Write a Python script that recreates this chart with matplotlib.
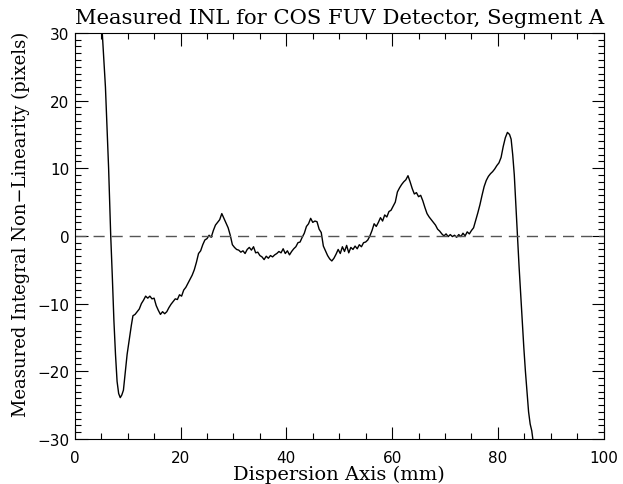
import numpy as np
import matplotlib
matplotlib.use('Agg')
import matplotlib.pyplot as plt
from matplotlib.ticker import MultipleLocator

# Dispersion axis position (mm) and measured INL (pixels)
disp_mm = [4.8, 5.2, 5.5, 5.8, 6.1, 6.4, 6.8, 7.1, 7.4, 7.7, 8.0, 8.3, 8.6, 8.9, 9.2, 9.5, 9.9,
           10.3, 10.7, 11.0, 11.4, 11.8, 12.2, 12.6, 13.0, 13.4, 13.8, 14.2, 14.6, 15.0, 15.4,
           15.8, 16.2, 16.6, 17.0, 17.4, 17.8, 18.2, 18.6, 19.0, 19.4, 19.8, 20.2, 20.6, 21.0,
           21.4, 21.8, 22.2, 22.6, 23.0, 23.4, 23.8, 24.2, 24.6, 25.0, 25.4, 25.8, 26.2, 26.6,
           27.0, 27.4, 27.8, 28.2, 28.6, 29.0, 29.4, 29.8, 30.2, 30.6, 31.0, 31.4, 31.8, 32.2,
           32.6, 33.0, 33.4, 33.8, 34.2, 34.6, 35.0, 35.4, 35.8, 36.2, 36.6, 37.0, 37.4, 37.8,
           38.2, 38.6, 39.0, 39.4, 39.8, 40.2, 40.6, 41.0, 41.4, 41.8, 42.2, 42.6, 43.0, 43.4,
           43.8, 44.2, 44.6, 45.0, 45.4, 45.8, 46.2, 46.6, 47.0, 47.4, 47.8, 48.2, 48.6, 49.0,
           49.4, 49.8, 50.2, 50.6, 51.0, 51.4, 51.8, 52.2, 52.6, 53.0, 53.4, 53.8, 54.2, 54.6,
           55.0, 55.4, 55.8, 56.2, 56.6, 57.0, 57.4, 57.8, 58.2, 58.6, 59.0, 59.4, 59.8, 60.2,
           60.6, 61.0, 61.4, 61.8, 62.2, 62.6, 63.0, 63.4, 63.8, 64.2, 64.6, 65.0, 65.4, 65.8,
           66.2, 66.6, 67.0, 67.4, 67.8, 68.2, 68.6, 69.0, 69.4, 69.8, 70.2, 70.6, 71.0, 71.4,
           71.8, 72.2, 72.6, 73.0, 73.4, 73.8, 74.2, 74.6, 75.0, 75.4, 75.8, 76.2, 76.6, 77.0,
           77.4, 77.8, 78.2, 78.6, 79.0, 79.4, 79.8, 80.2, 80.6, 81.0, 81.4, 81.8, 82.2, 82.5,
           82.8, 83.1, 83.4, 83.7, 84.0, 84.3, 84.6, 84.9, 85.2, 85.5, 85.8, 86.1, 86.4, 86.6,
           86.8]
inl_pix = [34.0, 30.0, 26.0, 22.0, 16.0, 10.0, 0.0, -6.0, -12.5, -17.5, -21.5, -23.3, -23.9,
           -23.5, -22.8, -20.5, -17.5, -15.3, -13.2, -11.8, -11.6, -11.2, -10.8, -10.0, -9.5,
           -8.9, -9.2, -8.9, -9.3, -9.2, -10.3, -11.0, -11.6, -11.2, -11.5, -11.2, -10.6, -10.1,
           -9.7, -9.3, -9.4, -8.7, -8.9, -8.0, -7.6, -7.0, -6.4, -5.8, -5.0, -3.9, -2.6, -2.2,
           -1.3, -0.6, -0.4, 0.1, -0.2, 0.8, 1.6, 2.0, 2.4, 3.3, 2.6, 1.9, 1.2, 0.1, -1.3, -1.7,
           -2.0, -2.1, -2.4, -2.2, -2.6, -2.0, -1.7, -2.1, -1.6, -2.5, -2.4, -2.9, -3.1, -3.5,
           -3.0, -3.3, -2.9, -3.1, -2.8, -2.6, -2.3, -2.5, -1.9, -2.6, -2.2, -2.8, -2.3, -1.9,
           -1.6, -1.0, -0.9, -0.2, 0.4, 1.4, 1.8, 2.6, 2.0, 2.2, 2.1, 1.0, 0.5, -1.5, -2.2, -2.9,
           -3.4, -3.7, -3.3, -2.7, -2.0, -2.6, -1.6, -2.3, -1.4, -2.5, -1.7, -2.0, -1.5, -1.9,
           -1.3, -1.6, -1.0, -0.9, -0.6, 0.0, 0.8, 1.8, 1.4, 2.0, 2.7, 2.2, 3.1, 2.8, 3.6, 3.8,
           4.4, 5.0, 6.5, 7.1, 7.6, 8.0, 8.3, 8.9, 8.0, 7.0, 6.2, 6.4, 5.8, 6.0, 5.2, 4.2, 3.3,
           2.8, 2.4, 2.0, 1.6, 1.0, 0.7, 0.3, 0.0, 0.3, -0.1, 0.2, -0.1, 0.1, -0.2, 0.2, -0.1,
           0.4, 0.0, 0.6, 0.3, 0.8, 1.2, 2.3, 3.4, 4.6, 6.0, 7.3, 8.2, 8.8, 9.2, 9.5, 9.9, 10.4,
           10.8, 11.6, 13.2, 14.5, 15.3, 15.0, 14.3, 12.0, 9.0, 4.5, 0.0, -4.5, -8.5, -12.5,
           -16.5, -20.0, -23.0, -26.0, -27.8, -28.8, -30.0, -32.0]

fig = plt.figure(figsize=(6.23, 4.85), dpi=100)
ax = fig.add_axes([0.120, 0.093, 0.849, 0.837])

ax.plot(disp_mm, inl_pix, color='black', lw=1.0)
ax.axhline(0, color='#555555', lw=1.0, dashes=(8, 5))

ax.set_xlim(0, 100)
ax.set_ylim(-30, 30)

ax.xaxis.set_major_locator(MultipleLocator(20))
ax.xaxis.set_minor_locator(MultipleLocator(5))
ax.yaxis.set_major_locator(MultipleLocator(10))
ax.yaxis.set_minor_locator(MultipleLocator(1))
ax.tick_params(which='both', direction='in', top=True, right=True, labelsize=11)
ax.tick_params(which='major', length=9, width=0.8)
ax.tick_params(which='minor', length=4.5, width=0.8)
ax.tick_params(axis='x', pad=8)
ax.tick_params(axis='y', pad=4)

ax.set_title('Measured INL for COS FUV Detector, Segment A',
             family='DejaVu Serif', fontsize=15.2, pad=7)
ax.set_xlabel('Dispersion Axis (mm)', family='DejaVu Serif', fontsize=14, labelpad=0)
ax.set_ylabel('Measured Integral Non\u2212Linearity (pixels)', family='DejaVu Serif',
              fontsize=13)
ax.yaxis.set_label_coords(-0.085, 0.53)

fig.savefig('out.png', dpi=100)
